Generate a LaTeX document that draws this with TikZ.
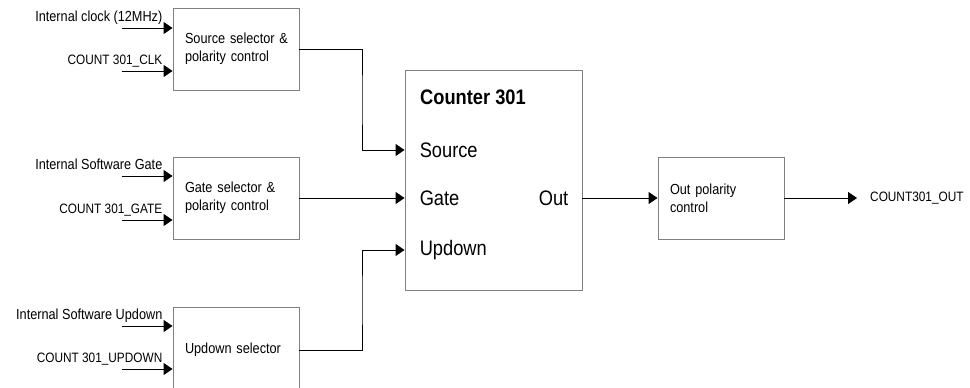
\documentclass[tikz,border=0pt]{standalone}
\usepackage{fontspec}
\setmainfont{Liberation Sans}[FakeStretch=0.87]
\usetikzlibrary{arrows.meta,positioning,calc}
\definecolor{boxgray}{HTML}{808080}
\newcommand{\capsz}{\fontsize{13.6}{17}\selectfont}

\begin{document}
\begin{tikzpicture}[x=1pt,y=1pt,
  blk/.style={draw=boxgray,line width=0.9pt,minimum width=126pt,minimum height=82pt,
              text width=102pt,inner xsep=12pt,align=left,font=\fontsize{14.6}{18}\selectfont},
  sig/.style={line width=0.9pt,-{Triangle[length=9pt,width=12pt]}},
  lbl/.style={font=\fontsize{14.6}{17}\selectfont,inner sep=0pt},
  pin/.style={font=\fontsize{21}{24}\selectfont,inner sep=0pt}]
\useasboundingbox (0,0) rectangle (970,-388);
\begin{scope}
\clip (0,0) rectangle (970,-388);
% selector blocks
\node[blk] (src) at (236,-49) {\mbox{Source selector \&}\\polarity control};
\node[blk] (gat) at (236,-198) {\mbox{Gate selector \&}\\polarity control};
\node[blk,minimum height=86pt] (upd) at (236,-350) {Updown selector};
% counter
\node[draw=boxgray,line width=0.9pt,minimum width=177pt,minimum height=220pt] (cnt) at (493.5,-180) {};
\node[pin,anchor=west,font=\fontsize{21}{24}\selectfont\bfseries] (ttl) at (420,-97) {Counter 301};
\coordinate (inSrc) at ($(cnt.west)+(0,30)$);
\coordinate (inGat) at (cnt.west |- gat.east);
\coordinate (inUpd) at ($(cnt.west)+(0,-70)$);
\coordinate (outCnt) at (cnt.east |- gat.east);
\node[pin,anchor=west] (pSrc) at ($(inSrc)+(15,0)$) {Source};
\node[pin,anchor=west] (pGat) at ($(inGat)+(15,0)$) {Gate};
\node[pin,anchor=west] (pUpd) at ($(inUpd)+(15,0)$) {Updown};
\node[pin,anchor=east] (pOut) at ($(outCnt)+(-14,0)$) {Out};
% output stage
\node[blk] (pol) at (721,-198) {Out polarity\\control};
\coordinate (oEnd) at (857,-198);
\node[lbl,anchor=west] (oLbl) at (870,-198) {\capsz COUNT301\_OUT};
% external inputs
\foreach \nm/\blk/\dy/\txt in {a/src/21/Internal clock (12MHz), b/src/-22/\capsz COUNT 301\_CLK,
    c/gat/22/Internal Software Gate, d/gat/-22/\capsz COUNT 301\_GATE,
    e/upd/24/Internal Software Updown, f/upd/-19/\capsz COUNT 301\_UPDOWN}{
  \coordinate (t\nm) at ($(\blk.west)+(0,\dy)$);
  \coordinate (s\nm) at ($(t\nm)+(-51,0)$);
  \draw[sig] (s\nm) -- (t\nm);
  \node[lbl,anchor=base east] (l\nm) at ($(t\nm)+(-10,7)$) {\txt};
}
% connections
\draw[sig] (src.east) -| (362,-100) |- (inSrc);
\draw[sig] (gat.east) -- (inGat);
\draw[sig] (upd.east) -| (362,-300) |- (inUpd);
\draw[sig] (outCnt) -- (pol.west);
\draw[sig] (pol.east) -- (oEnd);
\end{scope}
\end{tikzpicture}
\end{document}
